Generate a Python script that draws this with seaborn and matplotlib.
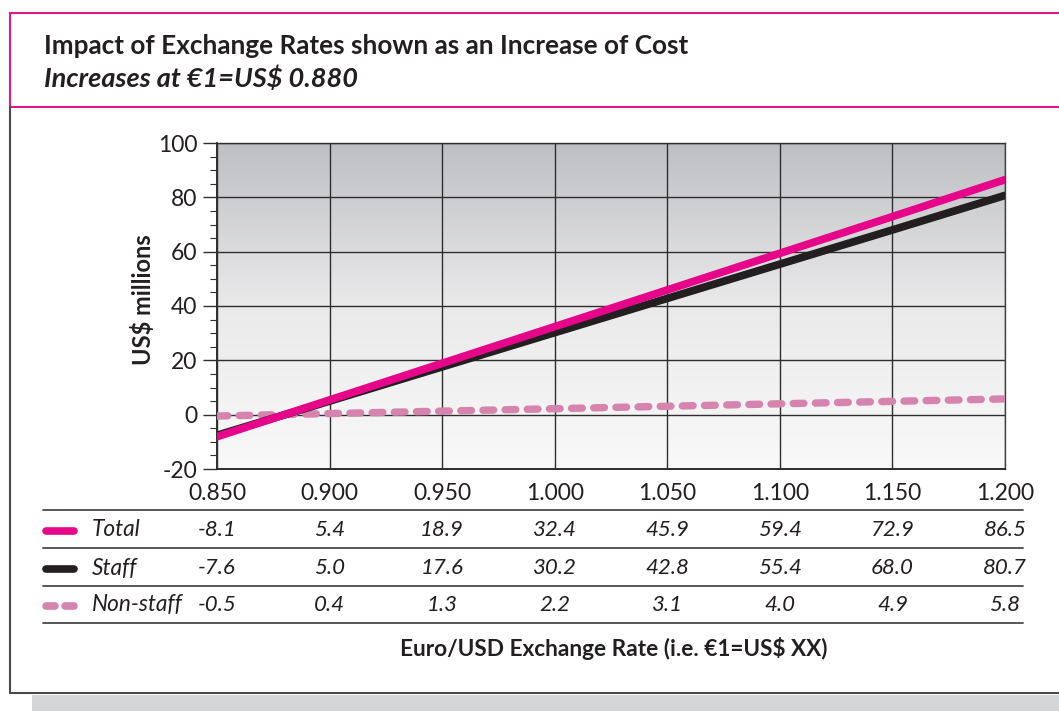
import numpy as np
import pandas as pd
import matplotlib
matplotlib.use("Agg")
import matplotlib.pyplot as plt
import seaborn as sns
from matplotlib.lines import Line2D
from matplotlib.patches import Rectangle
from matplotlib.colors import LinearSegmentedColormap
import matplotlib.transforms as mtransforms
from matplotlib.ticker import MultipleLocator

# ---- data ----
rates = [0.850, 0.900, 0.950, 1.000, 1.050, 1.100, 1.150, 1.200]
rate_labels = ["0.850", "0.900", "0.950", "1.000", "1.050", "1.100", "1.150", "1.200"]
total = [-8.1, 5.4, 18.9, 32.4, 45.9, 59.4, 72.9, 86.5]
staff = [-7.6, 5.0, 17.6, 30.2, 42.8, 55.4, 68.0, 80.7]
nonstaff = [-0.5, 0.4, 1.3, 2.2, 3.1, 4.0, 4.9, 5.8]
series_names = ["Total", "Staff", "Non-staff"]
y_ticks = [-20, 0, 20, 40, 60, 80, 100]

title = "Impact of Exchange Rates shown as an Increase of Cost"
subtitle = "Increases at \u20ac1=US$ 0.880"
ylabel = "US$ millions"
xlabel = "Euro/USD Exchange Rate (i.e. \u20ac1=US$ XX)"

# ---- style ----
sns.set_theme(style="white")
plt.rcParams['font.family'] = ['Lato', 'DejaVu Sans']

PINK = "#e6068a"
BLACK = "#231f20"
LPINK = "#d585ad"
TXT = "#231f20"

W, H = 1059, 711
fig = plt.figure(figsize=(W / 100, H / 100), dpi=100)
fig.patch.set_facecolor("white")

def fx(px):
    return px / W

def fy(py):
    return 1 - py / H

ax = fig.add_axes([fx(217), fy(469), fx(1005) - fx(217), fy(143) - fy(469)])

# gradient background
cmap = LinearSegmentedColormap.from_list("g", ["#bebfc3", "#eaeaeb", "#f9f9f9"])
ax.imshow(np.linspace(0, 1, 256).reshape(-1, 1), cmap=cmap, aspect="auto",
          extent=[rates[0], rates[-1], -20, 100], origin="upper", zorder=0)

df = pd.DataFrame({"rate": rates, "Total": total, "Staff": staff, "Non-staff": nonstaff})

lw = 5.6
sns.lineplot(data=df, x="rate", y="Non-staff", ax=ax, color=LPINK, lw=lw * 0.95, zorder=3)
ln = ax.lines[-1]
ln.set_dashes((1.45, 1.55))
ln.set_dash_capstyle("round")
sns.lineplot(data=df, x="rate", y="Staff", ax=ax, color=BLACK, lw=lw, zorder=4,
             solid_capstyle="round")
sns.lineplot(data=df, x="rate", y="Total", ax=ax, color=PINK, lw=lw, zorder=5,
             solid_capstyle="round")

ax.set_xlim(rates[0], rates[-1])
ax.set_ylim(-20, 100)
ax.set_xticks(rates)
ax.set_xticklabels(rate_labels)
ax.set_yticks(y_ticks)
ax.set_yticklabels([str(v) for v in y_ticks])
ax.yaxis.set_minor_locator(MultipleLocator(5))
ax.set_xlabel("")
ax.set_ylabel("")
ax.grid(True, which="major", color="#2e2e2e", lw=1.0, zorder=1)
ax.set_axisbelow(False)
for coll in ax.get_xgridlines() + ax.get_ygridlines():
    coll.set_zorder(1)

ax.tick_params(axis="x", length=0, pad=10, labelsize=16.5, colors=TXT)
ax.tick_params(axis="y", which="major", direction="out", length=10, width=1.0,
               color="#2e2e2e", pad=4, labelsize=16.5, labelcolor=TXT, left=True)
ax.tick_params(axis="y", which="minor", direction="out", length=5, width=0.8,
               color="#2e2e2e", left=True)
for side in ["left", "bottom"]:
    ax.spines[side].set_color("#1e1e1e")
    ax.spines[side].set_linewidth(1.3)
for side in ["top", "right"]:
    ax.spines[side].set_color("#444444")
    ax.spines[side].set_linewidth(1.0)
    ax.spines[side].set_visible(True)

# y label
fig.text(fx(143), fy(300), ylabel, rotation=90, ha="center", va="center",
         fontsize=17, fontweight="bold", color=TXT)

# title
fig.text(fx(44), fy(46), title, ha="left", va="center", fontsize=18.8,
         fontweight="bold", color=TXT)
fig.text(fx(44), fy(78), subtitle, ha="left", va="center", fontsize=19.5,
         fontweight="bold", fontstyle="italic", color=TXT)

# frames
fig.add_artist(Rectangle((fx(10), fy(107)), fx(W + 20) - fx(10), fy(13) - fy(107),
                         transform=fig.transFigure, fill=False, edgecolor="#dc1b85", lw=1.5))
fig.add_artist(Line2D([fx(10), fx(10)], [fy(107), fy(693)], transform=fig.transFigure,
                      color="#4a4a4a", lw=1.5))
fig.add_artist(Line2D([fx(10), fx(W + 5)], [fy(693), fy(693)], transform=fig.transFigure,
                      color="#4a4a4a", lw=1.5))
fig.add_artist(Rectangle((fx(32), 0), fx(W + 5) - fx(32), fy(695), transform=fig.transFigure,
                         facecolor="#d4d5d7", edgecolor="none"))

# table
for yy in [510, 548, 586, 623]:
    fig.add_artist(Line2D([fx(43), fx(1023)], [fy(yy), fy(yy)], transform=fig.transFigure,
                          color="#4a4a4a", lw=1.3))

blend = mtransforms.blended_transform_factory(ax.transData, fig.transFigure)
row_y = [530, 568, 605]
row_data = [total, staff, nonstaff]
row_colors = [PINK, BLACK, LPINK]
for name, vals, ry, col in zip(series_names, row_data, row_y, row_colors):
    fig.text(fx(92), fy(ry), name, ha="left", va="center", fontsize=16.3,
             fontstyle="italic", color=TXT)
    for xv, v in zip(rates, vals):
        fig.text(xv, fy(ry), f"{v:.1f}", transform=blend, ha="center", va="center",
                 fontsize=16, fontstyle="italic", color=TXT)
    if name == "Non-staff":
        for a, b in [(46, 55), (65, 74)]:
            fig.add_artist(Line2D([fx(a), fx(b)], [fy(ry + 1), fy(ry + 1)],
                                  transform=fig.transFigure, color=col, lw=5.5,
                                  solid_capstyle="round"))
    else:
        fig.add_artist(Line2D([fx(46), fx(74)], [fy(ry + 1), fy(ry + 1)],
                              transform=fig.transFigure, color=col, lw=5.5,
                              solid_capstyle="round"))

fig.text(fx(614), fy(648), xlabel, ha="center", va="center", fontsize=16.3,
         fontweight="bold", color=TXT)

fig.savefig("out.png", dpi=100)
